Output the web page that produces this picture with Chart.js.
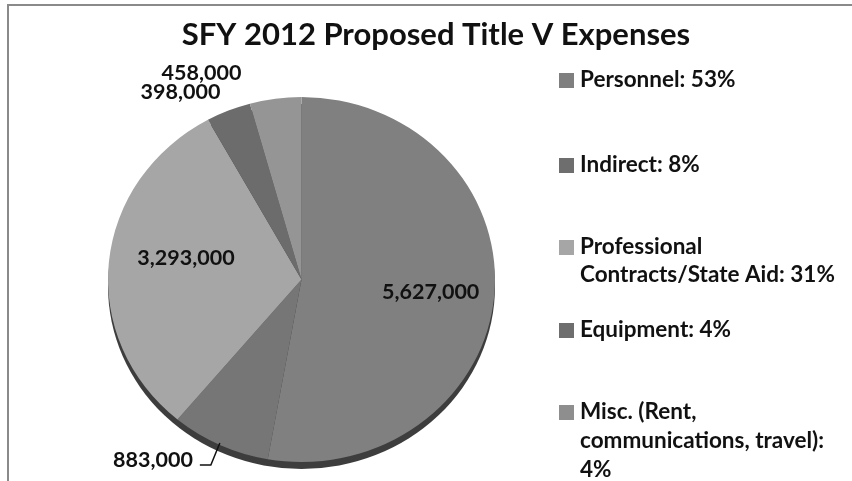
<!DOCTYPE html>
<html><head><meta charset="utf-8">
<script src="https://cdn.jsdelivr.net/npm/chart.js@4.4.0/dist/chart.umd.min.js"></script>
<style>html,body{margin:0;padding:0;background:#fff}#wrap{position:relative;width:852px;height:481px}</style>
</head><body><div id="wrap"><canvas id="c" width="852" height="481"></canvas></div>
<script>
const titleText = "SFY 2012 Proposed Title V Expenses";
const categories = ["Personnel","Indirect","Professional Contracts/State Aid","Equipment","Misc. (Rent, communications, travel)"];
const values = [5627000, 883000, 3293000, 398000, 458000];
const valueLabels = ["5,627,000","883,000","3,293,000","398,000","458,000"];
const legendLines = [["Personnel: 53%"],["Indirect: 8%"],["Professional","Contracts/State Aid: 31%"],["Equipment: 4%"],["Misc. (Rent,","communications, travel):","4%"]];

const sliceColors = ["#808080","#767676","#a6a6a6","#6c6c6c","#959595"];
const legendColors = ["#7f7f7f","#6e6e6e","#a6a6a6","#6e6e6e","#8e8e8e"];
const TILT = 0.943;
const FONT = "Lato, 'Open Sans', sans-serif";
// label placement: inside -> radius factor; outside -> offset from rim point
const labelPlace = [
  {mode:"in", r:0.67, dx:0, dy:2},
  {mode:"out", dx:-29, dy:15, leader:true},
  {mode:"in", r:0.6, dx:0, dy:-11},
  {mode:"out", dx:-48, dy:-18},
  {mode:"out", dx:-74, dy:-26}
];
const legendY = [[80],[165],[247,275],[330],[412,441,470]];

const tiltPlugin = {
  id:"tilt",
  beforeDatasetsDraw(chart){
    const ctx = chart.ctx;
    const arc = chart.getDatasetMeta(0).data[0];
    const cx = arc.x, cy = arc.y, r = arc.outerRadius;
    ctx.save();
    ctx.fillStyle = "#3d3d3d";
    ctx.beginPath();
    ctx.ellipse(cx, cy + 7, r, r*TILT, 0, 0, Math.PI*2);
    ctx.fill();
    ctx.translate(cx, cy); ctx.scale(1, TILT); ctx.translate(-cx, -cy);
  },
  afterDatasetsDraw(chart){
    const ctx = chart.ctx;
    ctx.restore();
    const meta = chart.getDatasetMeta(0);
    ctx.save();
    // frame
    ctx.strokeStyle = "#8a8a8a"; ctx.lineWidth = 2;
    ctx.beginPath(); ctx.moveTo(8, 481); ctx.lineTo(8, 5); ctx.lineTo(852, 5); ctx.stroke();
    // title
    ctx.fillStyle = "#111";
    ctx.font = "bold 31px " + FONT;
    ctx.textAlign = "center"; ctx.textBaseline = "middle";
    ctx.fillText(titleText, 436, 35);
    // value labels
    ctx.font = "bold 21.5px " + FONT;
    meta.data.forEach((a, i) => {
      const mid = (a.startAngle + a.endAngle)/2;
      const p = labelPlace[i];
      let x, y;
      if (p.mode === "in") {
        const rr = a.outerRadius * p.r;
        x = a.x + Math.cos(mid)*rr + p.dx;
        y = a.y + Math.sin(mid)*rr*TILT + p.dy;
        ctx.textAlign = "center";
        ctx.fillText(valueLabels[i], x, y);
      } else {
        const rx = a.x + Math.cos(mid)*a.outerRadius;
        const ry = a.y + Math.sin(mid)*a.outerRadius*TILT;
        x = rx + p.dx; y = ry + p.dy;
        if (p.leader) {
          ctx.strokeStyle = "#111"; ctx.lineWidth = 1.5;
          ctx.beginPath();
          ctx.moveTo(rx, ry - 2);
          ctx.lineTo(rx - 9, y + 5);
          ctx.lineTo(rx - 20, y + 5);
          ctx.stroke();
          ctx.textAlign = "right";
          ctx.fillText(valueLabels[i], rx - 27, y);
        } else {
          ctx.textAlign = "center";
          ctx.fillText(valueLabels[i], x, y);
        }
      }
    });
    // legend
    ctx.font = "bold 22.5px " + FONT;
    ctx.textAlign = "left";
    legendLines.forEach((lines, i) => {
      ctx.fillStyle = legendColors[i];
      ctx.fillRect(559, legendY[i][0] - 7, 15, 15);
      ctx.fillStyle = "#111";
      lines.forEach((t, j) => ctx.fillText(t, 580, legendY[i][j]));
    });
    ctx.restore();
  }
};

new Chart(document.getElementById("c"), {
  type: "pie",
  data: { labels: categories, datasets: [{ data: values, backgroundColor: sliceColors, borderWidth: 0 }] },
  options: {
    responsive: false, devicePixelRatio: 1, animation: false,
    layout: { padding: { left: 108, right: 357, top: 86, bottom: 8 } },
    plugins: { legend: { display: false }, tooltip: { enabled: false }, title: { display: false } }
  },
  plugins: [tiltPlugin]
});
</script>
</body></html>
